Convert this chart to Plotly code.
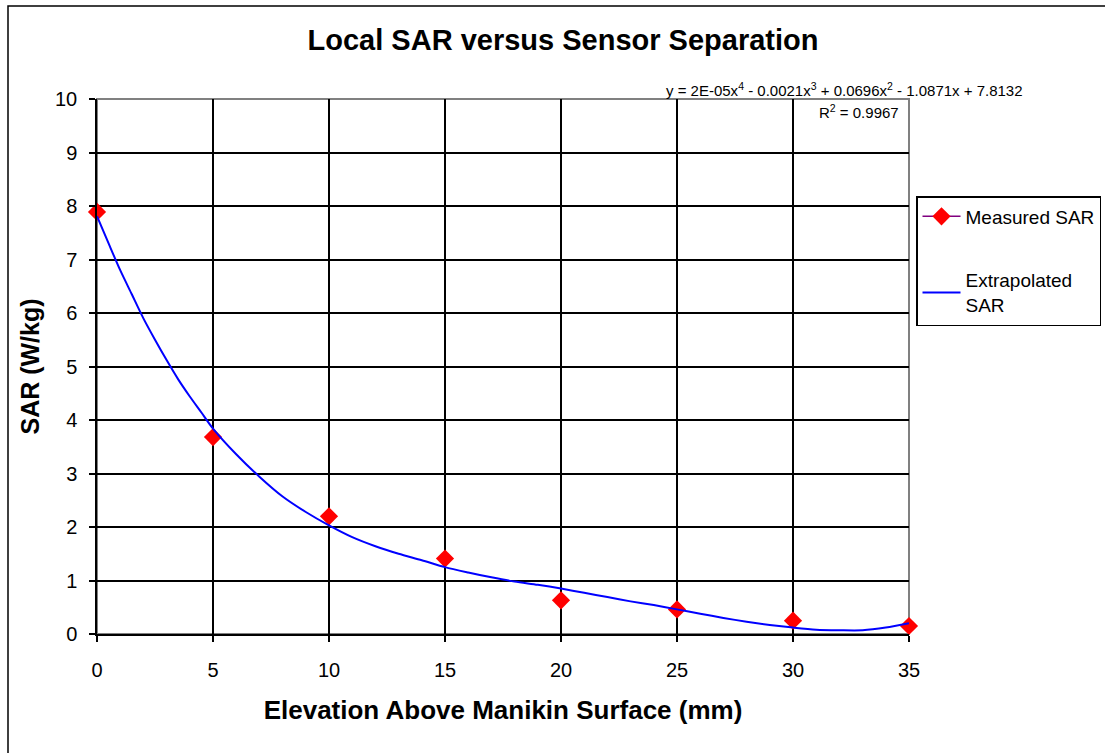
import plotly.graph_objects as go

# Measured data
meas_x = [0, 5, 10, 15, 20, 25, 30, 35]
meas_y = [7.89, 3.68, 2.20, 1.41, 0.63, 0.46, 0.25, 0.15]

# Extrapolated (trendline)
fit_x = [0, 0.5, 1, 1.5, 2, 2.5, 3, 3.5, 4, 4.5, 5, 6, 7, 8, 9, 10, 11, 12, 13, 14, 15,
         16, 17, 18, 19, 20, 21, 22, 23, 24, 25, 26, 27, 28, 29, 30, 31, 32, 33, 34, 35]
fit_y = [7.81, 7.30, 6.80, 6.35, 5.90, 5.50, 5.12, 4.76, 4.44, 4.14, 3.84, 3.36, 2.94,
         2.57, 2.28, 2.03, 1.81, 1.64, 1.50, 1.38, 1.25, 1.15, 1.06, 0.98, 0.92, 0.85,
         0.77, 0.69, 0.61, 0.54, 0.46, 0.38, 0.30, 0.23, 0.17, 0.12, 0.08, 0.07, 0.07,
         0.12, 0.20]

x_ticks = [0, 5, 10, 15, 20, 25, 30, 35]
y_ticks = [0, 1, 2, 3, 4, 5, 6, 7, 8, 9, 10]

title_text = "Local SAR versus Sensor Separation"
x_title = "Elevation Above Manikin Surface (mm)"
y_title = "SAR (W/kg)"
eq_text = "y = 2E-05x<sup>4</sup> - 0.0021x<sup>3</sup> + 0.0696x<sup>2</sup> - 1.0871x + 7.8132"
r2_text = "R<sup>2</sup> = 0.9967"

FONT = "Liberation Sans, Arial, sans-serif"

# interleave None so markers are not joined, while the legend shows a line sample
mx, my = [], []
for a, b in zip(meas_x, meas_y):
    mx += [a, None]
    my += [b, None]

fig = go.Figure()
fig.add_trace(go.Scatter(
    x=mx, y=my, mode="lines+markers", name="Measured SAR",
    line=dict(color="#800080", width=1.5),
    marker=dict(symbol="diamond", size=14, color="#FF0000"),
    connectgaps=False, cliponaxis=False, legendgroup="a"))
fig.add_trace(go.Scatter(
    x=fit_x, y=fit_y, mode="lines", name="Extrapolated<br>SAR",
    line=dict(color="#0000FF", width=2, shape="spline", smoothing=0.8),
    cliponaxis=False, legendgroup="b"))

fig.update_layout(
    width=1105, height=753,
    margin=dict(l=97, r=196, t=99, b=119, autoexpand=False),
    paper_bgcolor="white", plot_bgcolor="white",
    font=dict(family=FONT, size=20, color="black"),
    title=dict(text="<b>" + title_text + "</b>", x=563 / 1105, xanchor="center",
               y=1 - 40 / 753, yanchor="middle", font=dict(size=29)),
    showlegend=True,
    legend=dict(x=(916 - 97) / 812, y=(634 - 196) / 535, xanchor="left", yanchor="top",
                bordercolor="black", borderwidth=1.5, bgcolor="white",
                font=dict(size=19), traceorder="grouped", tracegroupgap=36,
                itemwidth=38),
    xaxis=dict(range=[0, 35], tickvals=x_ticks, showgrid=True, gridcolor="black",
               gridwidth=1.5, zeroline=False, showline=True, linecolor="black",
               linewidth=1.5, ticks="outside", ticklen=6, tickcolor="black",
               tickwidth=1.5, ticklabelstandoff=11,
               title=dict(text="<b>" + x_title + "</b>", font=dict(size=26), standoff=21)),
    yaxis=dict(range=[0, 10], tickvals=y_ticks, showgrid=True, gridcolor="black",
               gridwidth=1.5, zeroline=False, showline=True, linecolor="black",
               linewidth=1.5, ticks="outside", ticklen=6, tickcolor="black",
               tickwidth=1.5, ticklabelstandoff=8,
               title=dict(text="<b>" + y_title + "</b>", font=dict(size=25), standoff=8)),
    shapes=[
        dict(type="rect", xref="paper", yref="paper", x0=0, x1=1, y0=0, y1=1,
             line=dict(color="#808080", width=2), layer="between"),
        dict(type="rect", xref="paper", yref="paper", x0=(8 - 97) / 812, x1=1.4,
             y0=-0.4, y1=(634 - 6) / 535, line=dict(color="black", width=1.5),
             layer="below"),
    ],
    annotations=[
        dict(text=eq_text, xref="paper", yref="paper", x=(1025 - 97) / 812,
             y=(634 - 89) / 535, xanchor="right", yanchor="middle", showarrow=False,
             font=dict(size=15)),
        dict(text=r2_text, xref="paper", yref="paper", x=(901 - 97) / 812,
             y=(634 - 111) / 535, xanchor="right", yanchor="middle", showarrow=False,
             font=dict(size=15)),
    ],
)

fig.write_html("out.html", config={"displayModeBar": False},
               post_script="document.body.style.margin='0';document.body.style.overflow='hidden';")
